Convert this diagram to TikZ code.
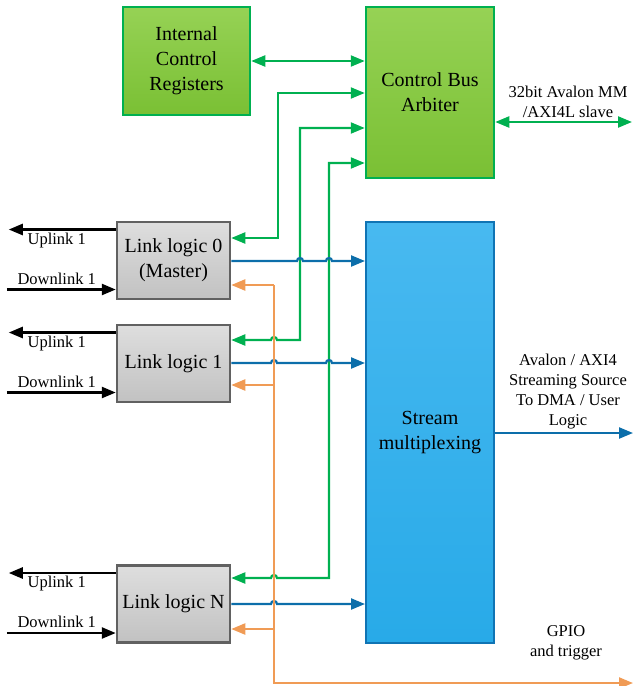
\documentclass[tikz,border=0pt]{standalone}
\usepackage{fontspec}
\setmainfont{Liberation Serif}
\usepackage{xcolor}
\usetikzlibrary{arrows.meta, calc}

\definecolor{gline}{RGB}{0,176,80}
\definecolor{bline}{RGB}{12,110,170}
\definecolor{oline}{RGB}{240,155,85}
\definecolor{gtop}{RGB}{150,210,85}
\definecolor{gbot}{RGB}{122,192,52}
\definecolor{btop}{RGB}{72,185,240}
\definecolor{bbot}{RGB}{40,170,232}
\definecolor{bedge}{RGB}{16,116,180}

\tikzset{
	tip/.style={-{Triangle[length=14pt,width=11pt]}},
	both/.style={{Triangle[length=14pt,width=11pt]}-{Triangle[length=14pt,width=11pt]}},
	gbox/.style={draw=gline, line width=2.5pt, top color=gtop, bottom color=gbot, align=center, font=\fontsize{20}{25}\selectfont},
	lbox/.style={draw=black!62, line width=2.5pt, top color=black!13, bottom color=black!24, minimum width=113pt, minimum height=77pt, align=center, font=\fontsize{20}{25}\selectfont},
	sbox/.style={draw=bedge, line width=2pt, top color=btop, bottom color=bbot, align=center, font=\fontsize{20}{25}\selectfont},
	lbl/.style={align=center, font=\fontsize{16.5}{19.7}\selectfont, inner sep=0pt},
	gwire/.style={gline, line width=2.2pt},
	bwire/.style={bline, line width=2.2pt},
	owire/.style={oline, line width=2.2pt},
	kwire/.style={black, line width=2.5pt}
}

\begin{document}
\begin{tikzpicture}[x=1pt, y=-1pt]
	\useasboundingbox (0,0) rectangle (633,686);

	% blocks
	\node[gbox, minimum width=127pt, minimum height=108pt] (icr) at (186.5,61) {Internal\\Control\\Registers};
	\node[gbox, minimum width=128pt, minimum height=171pt] (cba) at (430,92.5) {Control Bus\\Arbiter};
	\node[sbox, minimum width=128pt, minimum height=421pt] (smx) at (430,432.5) {Stream\\multiplexing};
	\node[lbox] (l0) at (173.5,260.5) {Link logic 0\\(Master)};
	\node[lbox] (l1) at (173.5,363.5) {Link logic 1};
	\node[lbox] (ln) at (173.5,604) {Link logic N};

	% uplinks / downlinks
	\foreach \n in {l0,l1,ln}{
		\draw[kwire, tip] ($(\n.west)+(0,-31)$) -- ($(\n.west)+(-107,-31)$);
		\draw[kwire, tip] ($(\n.west)+(-109,29)$) -- ($(\n.west)+(0,29)$);
		\node[lbl] (up\n) at ($(\n.west)+(-59,-20)$) {Uplink 1};
		\node[lbl] (dn\n) at ($(\n.west)+(-59,18)$) {Downlink 1};
	}

	% control bus
	\draw[gwire, both] (icr.east) -- (icr.east -| cba.west);
	\draw[gwire, both] (l0.east |- 0,238) -- (278,238) -- (278,93) -- (cba.west |- 0,93);
	\draw[gwire, both] (l1.east |- 0,340) -- (271,340) arc[start angle=180, end angle=0, radius=3pt] -- (300,340) -- (300,128) -- (cba.west |- 0,128);
	\draw[gwire, both] (ln.east |- 0,578) -- (271,578) arc[start angle=180, end angle=0, radius=3pt] -- (329,578) -- (329,163) -- (cba.west |- 0,163);
	\coordinate (mmport) at (632,122);
	\draw[gwire, both] (cba.east |- mmport) -- (mmport);
	\node[lbl] (mmlbl) at (568,102) {32bit Avalon MM\\/AXI4L slave};

	% stream data
	\draw[bwire, tip] (l0.east |- 0,261) -- (297,261) arc[start angle=180, end angle=0, radius=3pt] -- (326,261) arc[start angle=180, end angle=0, radius=3pt] -- (smx.west |- 0,261);
	\draw[bwire, tip] (l1.east |- 0,363) -- (271,363) arc[start angle=180, end angle=0, radius=3pt] -- (326,363) arc[start angle=180, end angle=0, radius=3pt] -- (smx.west |- 0,363);
	\draw[bwire, tip] (ln.east |- 0,604) -- (271,604) arc[start angle=180, end angle=0, radius=3pt] -- (smx.west |- 0,604);
	\coordinate (dmaport) at (633,433);
	\draw[bwire, tip] (smx.east |- dmaport) -- (dmaport);
	\node[lbl] (dmalbl) at (568,391.5) {Avalon / AXI4\\Streaming Source\\To DMA / User\\Logic};

	% gpio
	\coordinate (gpioport) at (633,683);
	\draw[owire, tip] (274,285) -- (274,683) -- (gpioport);
	\draw[owire, tip] (274,285) -- (l0.east |- 0,285);
	\draw[owire, tip] (274,385) -- (l1.east |- 0,385);
	\draw[owire, tip] (274,629) -- (ln.east |- 0,629);
	\node[lbl] (gpiolbl) at (566,643) {GPIO\\and trigger};
\end{tikzpicture}
\end{document}
